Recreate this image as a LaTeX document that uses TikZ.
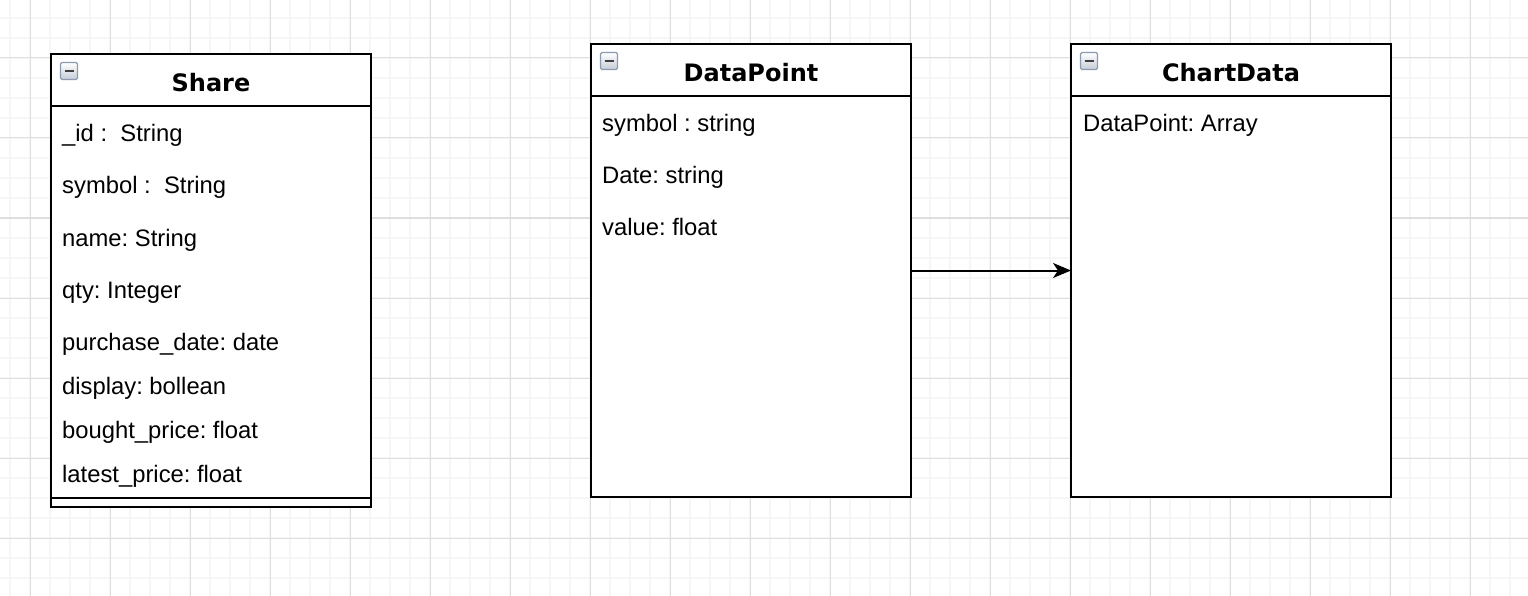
\documentclass[tikz,border=0pt]{standalone}
\usepackage{fontspec}
\setmainfont{Liberation Sans}
\newfontfamily\headfont{DejaVu Sans}
\usetikzlibrary{positioning,arrows.meta}
\frenchspacing

\definecolor{minorgrid}{RGB}{246,246,246}
\definecolor{majorgrid}{RGB}{222,222,222}
\definecolor{iconedge}{RGB}{140,155,175}

\tikzset{
    classbox/.style={draw, line width=2pt, fill=white, anchor=north west, inner sep=0pt, outer sep=0pt,
        minimum width=320pt, minimum height=453pt},
    classname/.style={anchor=base, inner sep=0pt, font=\headfont\bfseries\fontsize{24}{28}\selectfont},
    attr/.style={anchor=base west, inner sep=0pt, font=\fontsize{23.8}{28}\selectfont},
}

\begin{document}
\begin{tikzpicture}[x=1pt,y=-1pt]
            \useasboundingbox (0,0) rectangle (1528,596);
            \fill[white] (0,0) rectangle (1528,596);
            % background grid
            \foreach \x in {10,30,...,1520}
                \draw[minorgrid, line width=1.5pt] (\x,0) -- (\x,596);
            \foreach \y in {18,38,...,590}
                \draw[minorgrid, line width=1.5pt] (0,\y) -- (1528,\y);
            \foreach \x in {30,110,...,1520}
                \draw[majorgrid, line width=1pt] (\x,0) -- (\x,596);
            \foreach \y in {58,138,...,590}
                \draw[majorgrid, line width=1pt] (0,\y) -- (1528,\y);

            % classes
            \node[classbox] (share) at (51,54) {};
            \node[classbox] (datapoint) at (591,44) {};
            \node[classbox] (chartdata) at (1071,44) {};

            \foreach \b in {share,datapoint,chartdata} {
                \draw[line width=2pt] ([yshift=-52pt]\b.north west) -- ([yshift=-52pt]\b.north east);
                \draw[iconedge, line width=1.2pt, rounded corners=1.5pt, top color=white, bottom color=iconedge!50]
                    ([xshift=9.5pt,yshift=-8.5pt]\b.north west) rectangle ++(17,17);
                \draw[black!75, line width=2.5pt] ([xshift=13.5pt,yshift=-17pt]\b.north west) -- ++(9,0);
            }
            \draw[line width=2pt] ([yshift=9pt]share.south west) -- ([yshift=9pt]share.south east);

            \node[classname] (share-name) at ([yshift=-38pt]share.north) {Share};
            \node[classname] (datapoint-name) at ([yshift=-38pt]datapoint.north) {DataPoint};
            \node[classname] (chartdata-name) at ([yshift=-38pt]chartdata.north) {ChartData};

            % attributes
            \foreach \y/\txt [count=\i] in {88/{\_id :\ \ String}, 140/{symbol :\ \ String}, 192/{name: String},
                    244/{qty: Integer}, 296/{purchase\_date: date}, 340/{display: bollean},
                    384/{bought\_price: float}, 428/{latest\_price: float}}
                \node[attr] (share-\i) at ([xshift=11pt,yshift=-\y pt]share.north west) {\txt};
            \foreach \y/\txt [count=\i] in {88/{symbol : string}, 140/{Date: string}, 192/{value: float}}
                \node[attr] (datapoint-\i) at ([xshift=11pt,yshift=-\y pt]datapoint.north west) {\txt};
            \node[attr] (chartdata-1) at ([xshift=12pt,yshift=-88pt]chartdata.north west) {DataPoint: Array};

            \draw[line width=2pt, -{Stealth[length=18pt,width=15pt,inset=5pt]}] (datapoint.east) -- (chartdata.west);
        \end{tikzpicture}
\end{document}
